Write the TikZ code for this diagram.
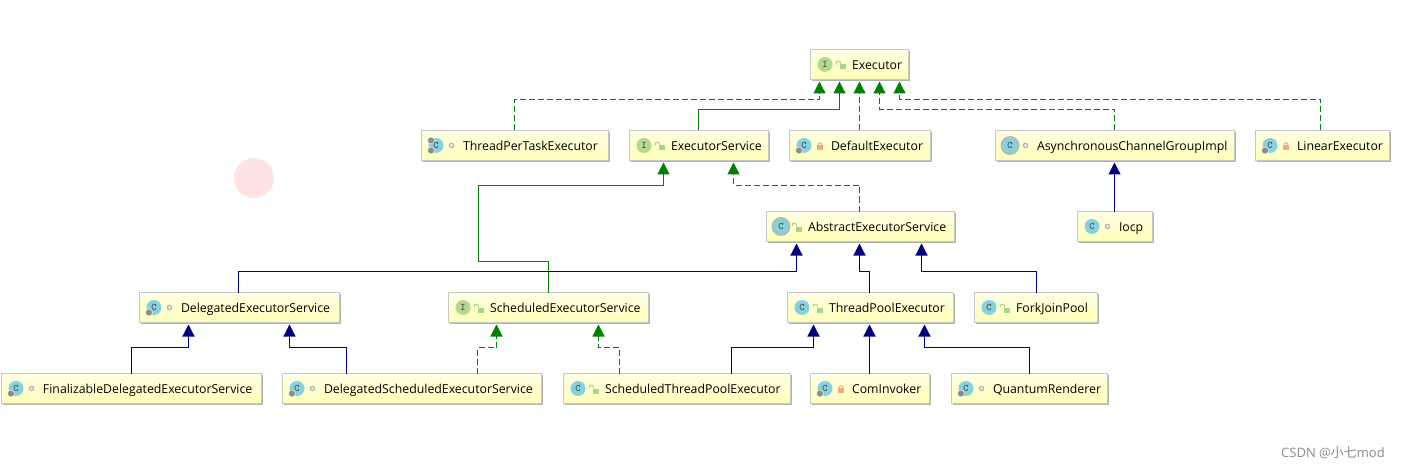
\documentclass[tikz,border=0pt]{standalone}
\usepackage{fontspec}
\setmainfont{Open Sans}
\newfontfamily\cjkfont{Noto Sans CJK SC}
\usetikzlibrary{arrows.meta,shadows}
\definecolor{implgreen}{HTML}{008000}
\definecolor{extnavy}{HTML}{000080}
\definecolor{classteal}{HTML}{84D2DC}
\definecolor{ifacegreen}{HTML}{B4D88E}
\definecolor{lockgreen}{HTML}{A6D68C}
\definecolor{lockorange}{HTML}{F5A87A}
\newcommand{\typeicon}[3]{% node name, fill, letter
  \node[iconball, fill=#2] (#1-k) at ([xshift=14.5]#1.west) {#3};}
\newcommand{\gearmark}[1]{%
  \node[gearball] (#1-g) at ([xshift=9.5,yshift=-5]#1.west) {};}
\newcommand{\abstractmark}[1]{%
  \node[ringball] (#1-r) at ([xshift=14.5]#1.west) {};}
\newcommand{\pubmark}[1]{%
  \node[lockbody, fill=lockgreen] (#1-m) at ([xshift=32,yshift=-2.5]#1.west) {};
  \draw[lockgreen, line width=1pt, rounded corners=1pt] ([xshift=1]#1-m.north west) -- ++(0,-3) -- ++(-4,0) -- ++(0,3);}
\newcommand{\privmark}[1]{%
  \node[lockbody, fill=lockorange] (#1-m) at ([xshift=30.5,yshift=-2]#1.west) {};
  \draw[lockorange, line width=1pt] ([xshift=2]#1-m.north) arc (0:180:2pt);}
\newcommand{\pkgmark}[1]{%
  \node[pkgdot] (#1-m) at ([xshift=30]#1.west) {};}

\begin{document}
\begin{tikzpicture}[x=1pt, y=-1pt,
      tbox/.style={draw=black!22, anchor=north west, outer sep=0pt, inner xsep=0pt, inner ysep=0pt,
                   minimum height=30pt, text width=#1, text height=12pt, text depth=2pt, align=left,
                   top color=white!90!yellow, bottom color=yellow!28!white,
                   drop shadow={shadow xshift=1.5pt, shadow yshift=-1.5pt, fill=black!30, opacity=1},
                   font=\fontsize{12.3}{15}\selectfont,
                   execute at begin node={\hspace*{41.5pt}}},
      iconball/.style={circle, minimum size=15pt, inner sep=0pt, text=black!70,
                       font=\fontsize{10}{10}\ttfamily\bfseries},
      gearball/.style={circle, minimum size=7pt, inner sep=0pt, fill=black!45, draw=white, line width=.4pt},
      ringball/.style={circle, minimum size=19pt, inner sep=0pt, fill=black!28},
      lockbody/.style={minimum width=6pt, minimum height=5pt, inner sep=0pt},
      pkgdot/.style={circle, minimum size=4.5pt, inner sep=0pt, draw=black!30, fill=black!10, line width=1pt},
      solidimpl/.style={implgreen, line width=1.2pt, shorten >=2pt,
                        -{Triangle[length=12pt, width=12pt]}},
      dashimpl/.style={solidimpl, dash pattern=on 6pt off 3pt},
      ext/.style={extnavy, line width=1.2pt, shorten >=2pt,
                  -{Triangle[length=12pt, width=12pt]}}]
    \useasboundingbox (0,0) rectangle (1409,468);
    \fill[white] (0,0) rectangle (1409,468);
    \node[circle, minimum size=40pt, inner sep=0pt, fill={rgb,255:red,253;green,228;blue,226}] (spot) at (254,178) {};
    % row 1
    \node[tbox=98pt] (ex) at (810.5,49.5) {Executor};
    % row 2
    \node[tbox=187pt] (tp) at (421.5,130.5) {ThreadPerTaskExecutor};
    \node[tbox=139pt] (es) at (629.5,130.5) {ExecutorService};
    \node[tbox=141pt] (de) at (789.5,130.5) {DefaultExecutor};
    \node[tbox=239pt] (ac) at (995.5,130.5) {AsynchronousChannelGroupImpl};
    \node[tbox=134pt] (le) at (1255.5,130.5) {LinearExecutor};
    % row 3
    \node[tbox=188pt] (ae) at (766.5,211.5) {AbstractExecutorService};
    \node[tbox=75pt] (io) at (1077.5,211.5) {Iocp};
    % row 4
    \node[tbox=200pt] (ds) at (139.5,292.5) {DelegatedExecutorService};
    \node[tbox=200pt] (se) at (448.5,292.5) {ScheduledExecutorService};
    \node[tbox=166pt] (tx) at (787.5,292.5) {ThreadPoolExecutor};
    \node[tbox=123pt] (fj) at (974.5,292.5) {ForkJoinPool};
    % row 5
    \node[tbox=260pt] (fd) at (1.5,373.5) {FinalizableDelegatedExecutorService};
    \node[tbox=259pt] (dx) at (282.5,373.5) {DelegatedScheduledExecutorService};
    \node[tbox=227pt] (st) at (563.5,373.5) {ScheduledThreadPoolExecutor};
    \node[tbox=119pt] (ci) at (810.5,373.5) {ComInvoker};
    \node[tbox=156pt] (qr) at (951.5,373.5) {QuantumRenderer};
    % icons
    \abstractmark{ac}
    \abstractmark{ae}
    \foreach \n in {ex,es,se} {\typeicon{\n}{ifacegreen}{I}}
    \foreach \n in {tp,de,ac,le,ae,io,ds,tx,fj,fd,dx,st,ci,qr} {\typeicon{\n}{classteal}{C}}
    \foreach \n in {tp,de,le,ds,fd,dx,ci,qr} {\gearmark{\n}}
    \node[gearball] (tp-h) at ([xshift=9.5,yshift=5]tp.west) {};
    \foreach \n in {ex,es,ae,se,tx,fj,st} {\pubmark{\n}}
    \foreach \n in {de,le,ci} {\privmark{\n}}
    \foreach \n in {tp,ac,io,ds,fd,dx,qr} {\pkgmark{\n}}
    % to Executor
    \draw[dashimpl] ([xshift=93]tp.north west) |- ([xshift=9,yshift=-20]ex.south west) -- ([xshift=9]ex.south west);
    \draw[solidimpl] ([xshift=69]es.north west) |- ([xshift=29,yshift=-30]ex.south west) -- ([xshift=29]ex.south west);
    \draw[dashimpl] ([xshift=70]de.north west) -- ([xshift=49]ex.south west);
    \draw[dashimpl] ([xshift=119]ac.north west) |- ([xshift=69,yshift=-30]ex.south west) -- ([xshift=69]ex.south west);
    \draw[dashimpl] ([xshift=65]le.north west) |- ([xshift=89,yshift=-20]ex.south west) -- ([xshift=89]ex.south west);
    % to ExecutorService
    \draw[solidimpl] ([xshift=100]se.north west) |- ([xshift=-151,yshift=-101]es.south west)
      |- ([xshift=34,yshift=-25]es.south west) -- ([xshift=34]es.south west);
    \draw[dashimpl] ([xshift=93]ae.north west) |- ([xshift=104,yshift=-25]es.south west) -- ([xshift=104]es.south west);
    % to AsynchronousChannelGroupImpl
    \draw[ext] ([xshift=37]io.north west) -- ([xshift=119]ac.south west);
    % to AbstractExecutorService
    \draw[ext] ([xshift=99]ds.north west) |- ([xshift=30,yshift=-30]ae.south west) -- ([xshift=30]ae.south west);
    \draw[ext] ([xshift=82]tx.north west) |- ([xshift=93,yshift=-30]ae.south west) -- ([xshift=93]ae.south west);
    \draw[ext] ([xshift=62]fj.north west) |- ([xshift=155,yshift=-30]ae.south west) -- ([xshift=155]ae.south west);
    % to DelegatedExecutorService
    \draw[ext] ([xshift=130]fd.north west) |- ([xshift=49,yshift=-25]ds.south west) -- ([xshift=49]ds.south west);
    \draw[ext] ([xshift=64]dx.north west) |- ([xshift=150,yshift=-25]ds.south west) -- ([xshift=150]ds.south west);
    % to ScheduledExecutorService
    \draw[dashimpl] ([xshift=195]dx.north west) |- ([xshift=48,yshift=-25]se.south west) -- ([xshift=48]se.south west);
    \draw[dashimpl] ([xshift=56]st.north west) |- ([xshift=150,yshift=-25]se.south west) -- ([xshift=150]se.south west);
    % to ThreadPoolExecutor
    \draw[ext] ([xshift=168]st.north west) |- ([xshift=26,yshift=-25]tx.south west) -- ([xshift=26]tx.south west);
    \draw[ext] ([xshift=59]ci.north west) -- ([xshift=82]tx.south west);
    \draw[ext] ([xshift=78]qr.north west) |- ([xshift=137,yshift=-25]tx.south west) -- ([xshift=137]tx.south west);
    % watermark
    \node[anchor=west, inner sep=0pt, text=black!45, font=\fontsize{13}{15}\selectfont] (mark) at (1281,453) {CSDN @{\cjkfont 小七}mod};
  \end{tikzpicture}
\end{document}
